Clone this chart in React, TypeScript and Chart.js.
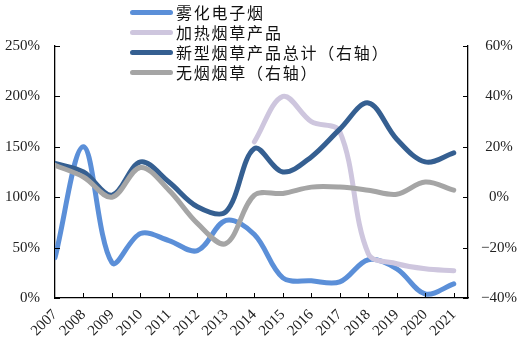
import React, { useEffect, useRef } from 'react';
import { Chart, registerables } from 'chart.js';

Chart.register(...registerables);

// ---- data ----
const years = [2007, 2008, 2009, 2010, 2011, 2012, 2013, 2014, 2015, 2016, 2017, 2018, 2019, 2020, 2021];
const eCig = [40, 150, 35, 64, 57, 47, 77, 63, 20, 17, 16, 38, 29, 4, 14];
const heated = [null, null, null, null, null, null, null, 155, 200, 175, 165, 44, 34, 29, 27];
const totalNew = [13.4, 10, 0.8, 14, 6, -3.8, -5.8, 19.3, 10, 16, 27, 37.4, 23, 14, 17.6];
const smokeless = [12.7, 8, 0, 11.8, 2.8, -10.4, -18.4, 0.8, 1.5, 4, 4, 2.8, 1.2, 6, 2.8];

const leftTicks = [0, 50, 100, 150, 200, 250];
const rightTicks = [-40, -20, 0, 20, 40, 60];

const seriesNames = ['雾化电子烟', '加热烟草产品', '新型烟草产品总计（右轴）', '无烟烟草（右轴）'];
const seriesColors = ['#5B8FD8', '#CEC6DE', '#355F91', '#A5A5A5'];

const FONT = '"Liberation Serif", "Times New Roman", serif';

const tickMarks = {
  id: 'tickMarks',
  afterDraw(chart: any) {
    const { ctx, chartArea } = chart;
    const xs = chart.scales.x;
    const yl = chart.scales.yL;
    const yr = chart.scales.yR;
    ctx.save();
    ctx.strokeStyle = '#000';
    ctx.lineWidth = 1;
    ctx.beginPath();
    years.slice(1).forEach((yv) => {
      const px = Math.round(xs.getPixelForValue(yv)) + 0.5;
      ctx.moveTo(px, chartArea.bottom);
      ctx.lineTo(px, chartArea.bottom - 5);
    });
    leftTicks.forEach((v) => {
      const py = Math.round(yl.getPixelForValue(v)) + 0.5;
      ctx.moveTo(chartArea.left, py);
      ctx.lineTo(chartArea.left + 5, py);
    });
    rightTicks.forEach((v) => {
      const py = Math.round(yr.getPixelForValue(v)) + 0.5;
      ctx.moveTo(chartArea.right, py);
      ctx.lineTo(chartArea.right - 5, py);
    });
    ctx.stroke();
    ctx.restore();
  },
};

export default function App() {
  const ref = useRef<HTMLCanvasElement | null>(null);

  useEffect(() => {
    if (!ref.current) return;
    const mk = (i: number, data: any[], axis: string, order: number) => ({
      label: seriesNames[i],
      data: years.map((y, k) => ({ x: y, y: data[k] })),
      yAxisID: axis,
      borderColor: seriesColors[i],
      backgroundColor: seriesColors[i],
      borderWidth: 5,
      pointRadius: 0,
      tension: 0.35,
      borderCapStyle: 'round',
      borderJoinStyle: 'round',
      spanGaps: false,
      order,
    });
    const chart = new Chart(ref.current, {
      type: 'line',
      data: {
        datasets: [
          mk(0, eCig, 'yL', 4),
          mk(1, heated, 'yL', 3),
          mk(2, totalNew, 'yR', 2),
          mk(3, smokeless, 'yR', 1),
        ] as any,
      },
      options: {
        animation: false,
        responsive: false,
        layout: { padding: { top: 46, left: 0, right: 0, bottom: 0 } },
        plugins: { legend: { display: false }, tooltip: { enabled: false } },
        scales: {
          x: {
            type: 'linear',
            min: 2007,
            max: 2021.5,
            afterBuildTicks: (s: any) => { s.ticks = years.map((v) => ({ value: v })); },
            afterFit: (s: any) => { s.height = 58; },
            grid: { display: false, drawTicks: false },
            border: { display: true, color: '#000', width: 1.3 },
            ticks: {
              autoSkip: false,
              maxRotation: 45,
              minRotation: 45,
              padding: 8,
              color: '#222',
              font: { family: FONT, size: 15 },
              callback: (v: any) => String(v),
            },
          },
          yL: {
            type: 'linear',
            position: 'left',
            min: 0,
            max: 250,
            afterFit: (s: any) => { s.width = 55; },
            grid: { display: false, drawTicks: false },
            border: { display: true, color: '#000', width: 1.3 },
            ticks: {
              stepSize: 50,
              padding: 15,
              color: '#222',
              font: { family: FONT, size: 15 },
              callback: (v: any) => v + '%',
            },
          },
          yR: {
            type: 'linear',
            position: 'right',
            min: -40,
            max: 60,
            afterFit: (s: any) => { s.width = 58; },
            grid: { display: false, drawTicks: false },
            border: { display: true, color: '#000', width: 1.3 },
            ticks: {
              stepSize: 20,
              padding: 13,
              crossAlign: 'center',
              color: '#222',
              font: { family: FONT, size: 15 },
              callback: (v: any) => (v < 0 ? '\u2212' + Math.abs(v) : String(v)) + '%',
            },
          },
        },
      } as any,
      plugins: [tickMarks],
    });
    return () => chart.destroy();
  }, []);

  const rowY = [12, 32, 52, 72];

  return (
    <div style={{ position: 'fixed', left: 0, top: 0, width: 526, height: 356, background: '#fff' }}>
      <canvas ref={ref} width={526} height={356} style={{ position: 'absolute', left: 0, top: 0, width: 526, height: 356 }} />
      {seriesNames.map((name, i) => (
        <React.Fragment key={name}>
          <div
            style={{
              position: 'absolute',
              left: 130,
              top: rowY[i] - 2.5,
              width: 43,
              height: 5,
              borderRadius: 3,
              background: seriesColors[i],
            }}
          />
          <div
            style={{
              position: 'absolute',
              left: 175,
              top: rowY[i] - 10,
              height: 20,
              lineHeight: '20px',
              fontSize: 16,
              whiteSpace: 'nowrap',
              color: '#111',
              fontFamily: '"Noto Sans CJK SC", sans-serif',
              display: 'flex',
            }}
          >
            {Array.from(name).map((ch, k) => (
              <span key={k} style={{ display: 'inline-block', width: 17.8, textAlign: 'center' }}>{ch}</span>
            ))}
          </div>
        </React.Fragment>
      ))}
    </div>
  );
}
